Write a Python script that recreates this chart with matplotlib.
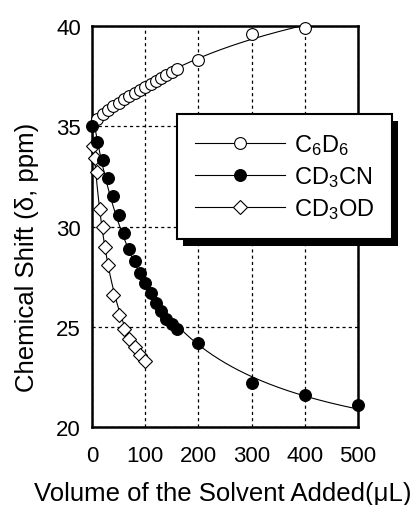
import numpy as np
import matplotlib
matplotlib.use("Agg")
import matplotlib.pyplot as plt
from matplotlib.patches import Rectangle

plt.rcParams['font.family'] = ['Liberation Sans', 'DejaVu Sans']
plt.rcParams['mathtext.fontset'] = 'custom'
plt.rcParams['mathtext.rm'] = 'Liberation Sans'

# data (volume in uL, shift in ppm)
c6d6_x = [10, 20, 30, 40, 50, 60, 70, 80, 90, 100, 110, 120, 130, 140, 150, 160, 200, 300, 400]
c6d6_y = [35.35, 35.6, 35.8, 36.0, 36.15, 36.35, 36.5, 36.65, 36.8, 36.95,
          37.1, 37.25, 37.4, 37.55, 37.7, 37.85, 38.3, 39.6, 39.9]

cd3cn_x = [0, 10, 20, 30, 40, 50, 60, 70, 80, 90, 100, 110, 120, 130, 140, 150, 160, 200, 300, 400, 500]
cd3cn_y = [35.0, 34.2, 33.3, 32.4, 31.5, 30.6, 29.7, 28.9, 28.3, 27.7, 27.2,
           26.7, 26.2, 25.8, 25.4, 25.15, 24.9, 24.2, 22.2, 21.6, 21.1]

cd3od_x = [1, 5, 10, 15, 20, 25, 30, 40, 50, 60, 70, 80, 90, 100]
cd3od_y = [34.0, 33.4, 32.7, 30.9, 30.0, 29.0, 28.1, 26.6, 25.6, 24.9, 24.4, 24.0, 23.6, 23.3]

labels = [r'C$\mathregular{_6}$D$\mathregular{_6}$',
          r'CD$\mathregular{_3}$CN',
          r'CD$\mathregular{_3}$OD']


def fit_curve(x, y, xs):
	# binding isotherm y = y0 + a*x/(K+x), K by grid search,
	# points weighted by their spacing so the sparse tail counts
	x = np.asarray(x, float)
	y = np.asarray(y, float)
	w = np.sqrt(np.gradient(x))
	best = None
	for K in np.logspace(0, 4, 600):
		f = x / (K + x)
		A = np.vstack([np.ones_like(f), f]).T
		coef = np.linalg.lstsq(A * w[:, None], y * w, rcond=None)[0]
		err = np.sum(((A @ coef - y) * w) ** 2)
		if best is None or err < best[0]:
			best = (err, K, coef)
	_, K, coef = best
	return coef[0] + coef[1] * xs / (K + xs)


fig = plt.figure(figsize=(4.13, 5.06), dpi=100)
ax = fig.add_axes([0.2228, 0.154, 0.644, 0.7926])

series = [(c6d6_x, c6d6_y, dict(marker='o', mfc='white', mec='black', ms=8.5, mew=0.8)),
          (cd3od_x, cd3od_y, dict(marker='D', mfc='white', mec='black', ms=7.5, mew=0.8)),
          (cd3cn_x, cd3cn_y, dict(marker='o', mfc='black', mec='black', ms=8.5, mew=0.8))]

handles = {}
for (xv, yv, style), lab in zip(series, [labels[0], labels[2], labels[1]]):
	xs = np.linspace(0, max(xv), 300)
	ax.plot(xs, fit_curve(xv, yv, xs), color='black', lw=0.8, zorder=3)
	ax.plot(xv, yv, ls='none', zorder=4, clip_on=False, **style)
	h, = ax.plot([], [], color='black', lw=0.8, label=lab, **style)
	handles[lab] = h

ax.set_xlim(0, 500)
ax.set_ylim(20, 40)
ax.set_xticks([0, 100, 200, 300, 400, 500])
ax.set_yticks([20, 25, 30, 35, 40])
ax.grid(True, color='black', ls=(0, (2.5, 2.5)), lw=0.9)
ax.tick_params(length=0, labelsize=16)
ax.tick_params(axis='x', pad=13)
ax.tick_params(axis='y', pad=8)
for s in ax.spines.values():
	s.set_linewidth(1.8)

ax.set_xlabel('Volume of the Solvent Added(\u03bcL)', fontsize=18.5)
ax.set_ylabel('Chemical Shift (\u03b4, ppm)', fontsize=18.5)
ax.xaxis.set_label_coords(0.49, -0.135)
ax.yaxis.set_label_coords(-0.2, 0.425)

leg = ax.legend(handles=[handles[l] for l in labels], loc='upper left',
                bbox_to_anchor=(0.32, 0.78), borderaxespad=0, fontsize=17,
                handlelength=3.8, handletextpad=0.4, labelspacing=0.3,
                borderpad=0.75, fancybox=False, framealpha=1, edgecolor='black')
leg.get_frame().set_linewidth(1.5)
leg.set_zorder(10)

# black drop shadow behind the legend box
fig.canvas.draw()
bb = leg.get_window_extent()
W, H = fig.bbox.width, fig.bbox.height
sh = Rectangle(((bb.x0 + 6) / W, (bb.y0 - 7) / H), bb.width / W, bb.height / H,
               transform=fig.transFigure, facecolor='black', edgecolor='none', zorder=9)
fig.add_artist(sh)
leg.remove()
fig.add_artist(leg)

fig.savefig('out.png', dpi=100)
